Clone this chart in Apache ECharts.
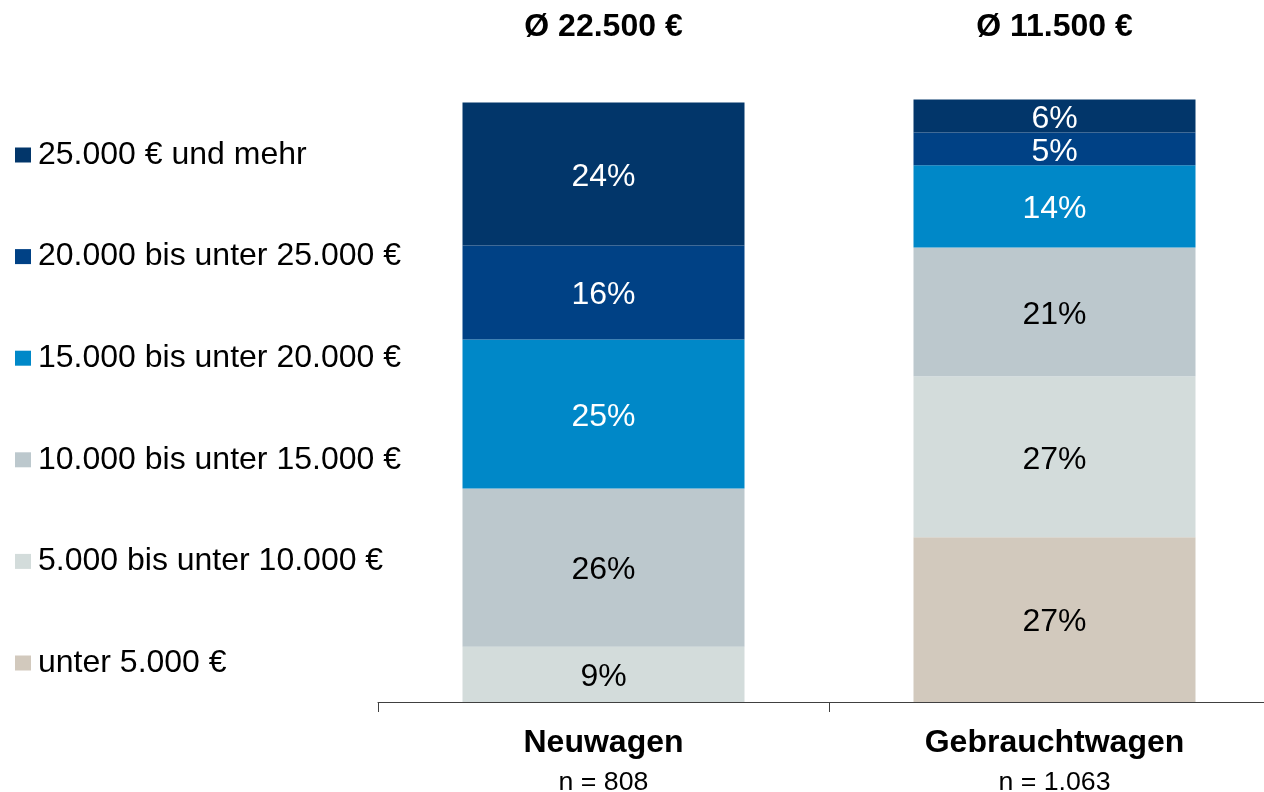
<!DOCTYPE html>
<html>
<head>
<meta charset="utf-8">
<script src="https://cdn.jsdelivr.net/npm/echarts@6/dist/echarts.min.js"></script>
<style>
html,body{margin:0;padding:0;background:#fff;overflow:hidden;width:1264px;height:792px;}
#chart{width:1290px;height:792px;}
</style>
</head>
<body>
<div id="chart"></div>
<script>
// ---- data ----
const categories = ['Neuwagen', 'Gebrauchtwagen'];
const sampleSizes = ['n = 808', 'n = 1.063'];
const averages = ['Ø 22.500 €', 'Ø 11.500 €'];
const seriesNames = [
  'unter 5.000 €',
  '5.000 bis unter 10.000 €',
  '10.000 bis unter 15.000 €',
  '15.000 bis unter 20.000 €',
  '20.000 bis unter 25.000 €',
  '25.000 € und mehr'
];
// shares in percent per category [Neuwagen, Gebrauchtwagen]
const under5000   = [0,    27.45];
const from5000    = [9.2,  26.85];
const from10000   = [26.4, 21.45];
const from15000   = [24.8, 13.7];
const from20000   = [15.7, 5.45];
const from25000   = [23.8, 5.5];
const seriesValues = [under5000, from5000, from10000, from15000, from20000, from25000];

// ---- style ----
const colors = ['#D2C9BD', '#D3DCDB', '#BCC8CD', '#0088C8', '#004185', '#02366A'];
const labelColors = ['#000', '#000', '#000', '#fff', '#fff', '#fff'];
const FONT = "'Liberation Sans', Arial, sans-serif";

const chart = echarts.init(document.getElementById('chart'), null, {renderer: 'canvas'});

const series = seriesNames.map((name, i) => ({
  name: name,
  type: 'bar',
  stack: 'total',
  barWidth: 282,
  data: seriesValues[i],
  itemStyle: { color: colors[i] },
  label: {
    show: true,
    position: 'inside',
    offset: [0, 3],
    color: labelColors[i],
    fontFamily: FONT,
    fontSize: 32,
    formatter: p => p.value > 0 ? Math.round(p.value) + '%' : ''
  },
  emphasis: { disabled: true }
}));

chart.setOption({
  animation: false,
  backgroundColor: '#fff',
  textStyle: { fontFamily: FONT },
  legend: {
    orient: 'vertical',
    left: 10,
    top: 134,
    itemWidth: 16,
    itemHeight: 15,
    itemGap: 69.6,
    icon: 'rect',
    selectedMode: false,
    data: seriesNames.slice().reverse(),
    textStyle: { fontFamily: FONT, fontSize: 32, color: '#000', lineHeight: 32, padding: [0, 0, 0, 2] }
  },
  grid: { left: 378, width: 902, bottom: 90, height: 630, containLabel: false, outerBoundsMode: 'none' },
  xAxis: [
    {
      type: 'category',
      data: categories,
      position: 'bottom',
      axisLine: { lineStyle: { color: '#404040', width: 1 } },
      axisTick: { show: true, length: 10, lineStyle: { color: '#404040' } },
      axisLabel: {
        margin: 21,
        interval: 0,
        formatter: (v, idx) => '{a|' + v + '}\n{b|' + sampleSizes[idx] + '}',
        rich: {
          a: { fontFamily: FONT, fontSize: 32, fontWeight: 'bold', color: '#000', lineHeight: 40 },
          b: { fontFamily: FONT, fontSize: 26.7, color: '#000', lineHeight: 40 }
        }
      }
    },
    {
      type: 'category',
      data: categories,
      position: 'top',
      axisLine: { show: false },
      axisTick: { show: false },
      axisLabel: {
        margin: 29,
        interval: 0,
        fontFamily: FONT,
        fontSize: 32,
        fontWeight: 'bold',
        color: '#000',
        lineHeight: 32,
        formatter: (v, idx) => averages[idx]
      }
    }
  ],
  yAxis: { type: 'value', min: 0, max: 105, show: false },
  series: series
});
</script>
</body>
</html>
